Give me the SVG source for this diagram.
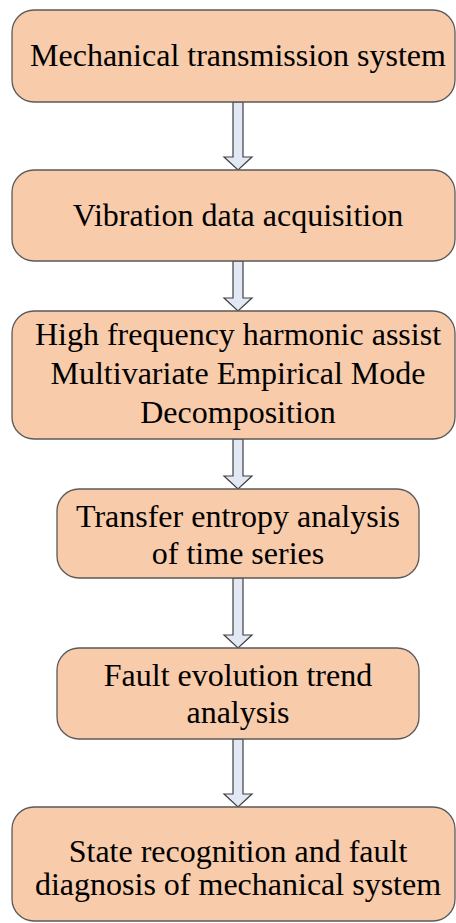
<svg xmlns="http://www.w3.org/2000/svg" width="456" height="923" viewBox="0 0 456 923">
<style>
.box{fill:#f8cbaa;stroke:#5a5a5a;stroke-width:1.3}
.arr{fill:#e2e9f5;stroke:#404040;stroke-width:1.2;stroke-linejoin:miter}
</style>
<rect width="456" height="923" fill="#fff"/>
<g id="connectors">
<polygon class="arr" points="233,102 243,102 243,157 252,157 238,170 224,157 233,157"/>
<polygon class="arr" points="233,261 243,261 243,298 252,298 238,311 224,298 233,298"/>
<polygon class="arr" points="233,439 243,439 243,476 252,476 238,489 224,476 233,476"/>
<polygon class="arr" points="233,578 243,578 243,635 252,635 238,648 224,635 233,635"/>
<polygon class="arr" points="233,739 243,739 243,794 252,794 238,807 224,794 233,794"/>
</g>
<g font-family="Liberation Serif, serif" font-size="32" fill="#000" text-anchor="middle">
<g id="n1"><rect class="box" x="12" y="10" width="443" height="92" rx="22"/><text x="238" y="66">Mechanical transmission system</text></g>
<g id="n2"><rect class="box" x="12" y="170" width="443" height="91" rx="22"/><text x="238" y="226">Vibration data acquisition</text></g>
<g id="n3"><rect class="box" x="12" y="311" width="443" height="128" rx="22"/><text x="238" y="345">High frequency harmonic assist</text><text x="238" y="384">Multivariate Empirical Mode</text><text x="238" y="423">Decomposition</text></g>
<g id="n4"><rect class="box" x="57" y="489" width="362" height="89" rx="22"/><text x="238" y="527">Transfer entropy analysis</text><text x="238" y="564">of time series</text></g>
<g id="n5"><rect class="box" x="57" y="648" width="362" height="91" rx="22"/><text x="238" y="686">Fault evolution trend</text><text x="238" y="723">analysis</text></g>
<g id="n6"><rect class="box" x="12" y="807" width="443" height="114" rx="22"/><text x="238" y="862">State recognition and fault</text><text x="238" y="895">diagnosis of mechanical system</text></g>
</g>
</svg>
